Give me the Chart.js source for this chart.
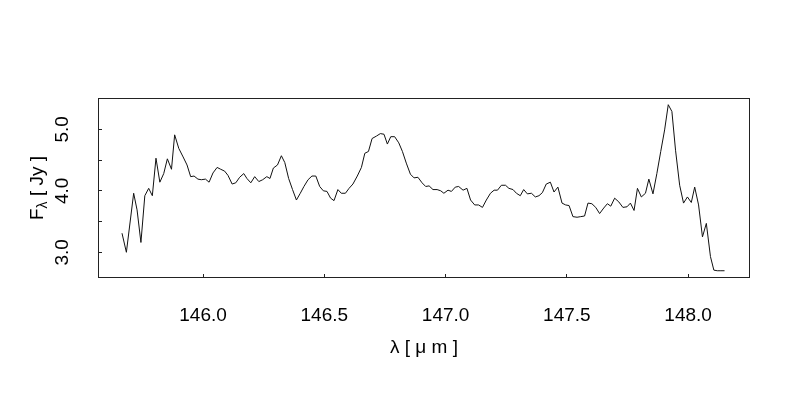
<!DOCTYPE html>
<html>
<head>
<meta charset="utf-8">
<title>Spectrum</title>
<style>
    html, body { margin: 0; padding: 0; background: #fff; }
    #wrap { width: 800px; height: 400px; }
</style>
<script src="https://cdn.jsdelivr.net/npm/chart.js@4.4.1/dist/chart.umd.min.js"></script>
</head>
<body>
<div id="wrap"><canvas id="chartSpectrum" width="800" height="400"></canvas></div>
<script>
// wavelength in micron
const wavelength = [
    145.666, 145.684, 145.714, 145.728, 145.744, 145.760, 145.776, 145.791, 145.806, 145.822,
    145.838, 145.853, 145.870, 145.883, 145.900, 145.918, 145.934, 145.949, 145.963, 145.979,
    145.993, 146.010, 146.025, 146.041, 146.058, 146.073, 146.089, 146.103, 146.120, 146.135,
    146.151, 146.168, 146.181, 146.197, 146.213, 146.230, 146.246, 146.263, 146.276, 146.290,
    146.307, 146.323, 146.337, 146.353, 146.369, 146.385, 146.401, 146.416, 146.433, 146.449,
    146.465, 146.481, 146.496, 146.511, 146.526, 146.540, 146.556, 146.570, 146.587, 146.602,
    146.618, 146.636, 146.653, 146.667, 146.682, 146.697, 146.715, 146.731, 146.746, 146.760,
    146.774, 146.790, 146.807, 146.822, 146.838, 146.855, 146.870, 146.886, 146.903, 146.918,
    146.932, 146.948, 146.965, 146.980, 146.993, 147.010, 147.024, 147.040, 147.054, 147.072,
    147.088, 147.103, 147.120, 147.136, 147.152, 147.168, 147.185, 147.200, 147.214, 147.230,
    147.247, 147.261, 147.278, 147.292, 147.308, 147.322, 147.337, 147.354, 147.370, 147.385,
    147.399, 147.415, 147.432, 147.447, 147.463, 147.480, 147.495, 147.509, 147.525, 147.542,
    147.557, 147.573, 147.587, 147.603, 147.619, 147.635, 147.652, 147.667, 147.681, 147.697,
    147.714, 147.731, 147.748, 147.762, 147.777, 147.791, 147.807, 147.824, 147.838, 147.855,
    147.871, 147.887, 147.903, 147.918, 147.933, 147.948, 147.965, 147.981, 147.997, 148.013,
    148.027, 148.043, 148.059, 148.075, 148.092, 148.106, 148.120, 148.135, 148.150
];

// flux density in Jy
const flux = [
    3.31, 3.00, 3.96, 3.69, 3.16, 3.92, 4.04, 3.92, 4.53, 4.14,
    4.28, 4.52, 4.35, 4.91, 4.69, 4.55, 4.42, 4.23, 4.24, 4.19,
    4.18, 4.19, 4.14, 4.29, 4.38, 4.35, 4.32, 4.25, 4.11, 4.13,
    4.22, 4.28, 4.20, 4.13, 4.23, 4.15, 4.18, 4.23, 4.20, 4.37,
    4.42, 4.57, 4.46, 4.20, 4.02, 3.85, 3.96, 4.07, 4.18, 4.24,
    4.24, 4.07, 4.00, 3.99, 3.88, 3.84, 4.02, 3.96, 3.96, 4.04,
    4.11, 4.24, 4.38, 4.61, 4.64, 4.85, 4.89, 4.93, 4.92, 4.76,
    4.88, 4.88, 4.78, 4.64, 4.45, 4.27, 4.21, 4.22, 4.13, 4.07,
    4.08, 4.02, 4.02, 4.00, 3.96, 4.01, 3.99, 4.06, 4.07, 4.01,
    4.04, 3.85, 3.77, 3.77, 3.73, 3.85, 3.96, 4.01, 4.01, 4.09,
    4.09, 4.04, 4.02, 3.96, 3.92, 4.02, 3.95, 3.96, 3.90, 3.92,
    3.97, 4.11, 4.14, 3.98, 4.06, 3.80, 3.77, 3.76, 3.58, 3.57,
    3.58, 3.59, 3.80, 3.79, 3.73, 3.63, 3.72, 3.79, 3.75, 3.88,
    3.82, 3.73, 3.74, 3.80, 3.68, 4.04, 3.90, 3.96, 4.19, 3.95,
    4.28, 4.64, 4.99, 5.40, 5.29, 4.66, 4.09, 3.80, 3.90, 3.81,
    4.06, 3.77, 3.25, 3.47, 2.93, 2.71, 2.70, 2.70, 2.70
];

const xTicks = [146.0, 146.5, 147.0, 147.5, 148.0];
const yTicks = [3.0, 3.5, 4.0, 4.5, 5.0];
const yLabelled = [3.0, 4.0, 5.0];

const FONT = "'Liberation Sans', Arial, Helvetica, sans-serif";
const FONT_SIZE = 19;

// box round the plot + y title with subscript lambda
const frameAndTitle = {
    id: "frameAndTitle",
    afterDraw(chart) {
        const { ctx, chartArea: a } = chart;
        ctx.save();
        ctx.strokeStyle = "#222";
        ctx.lineWidth = 1;
        ctx.strokeRect(Math.round(a.left) + 0.5, Math.round(a.top) + 0.5,
            Math.round(a.right - a.left) - 1, Math.round(a.bottom - a.top) - 1);

        ctx.translate(36, (a.top + a.bottom) / 2);
        ctx.rotate(-Math.PI / 2);
        ctx.fillStyle = "#000";
        ctx.textBaseline = "alphabetic";
        const big = `${FONT_SIZE}px ${FONT}`;
        const small = `${Math.round(FONT_SIZE * 0.72)}px ${FONT}`;
        ctx.font = big;
        const wF = ctx.measureText("F").width;
        const wRest = ctx.measureText(" [ Jy ]").width;
        ctx.font = small;
        const wSub = ctx.measureText("λ").width;
        const total = wF + wSub + wRest;
        let x = -total / 2;
        const base = FONT_SIZE * 0.36;
        ctx.font = big;
        ctx.fillText("F", x, base);
        x += wF;
        ctx.font = small;
        ctx.fillText("λ", x, base + 4);
        x += wSub;
        ctx.font = big;
        ctx.fillText(" [ Jy ]", x, base);
        ctx.restore();
    },
};

function initChart() {
    const canvas = document.getElementById("chartSpectrum");
    const points = wavelength.map((w, i) => ({ x: w, y: flux[i] }));

    new Chart(canvas, {
        type: "line",
        data: {
            datasets: [
                {
                    data: points,
                    borderColor: "#111",
                    borderWidth: 1,
                    pointRadius: 0,
                    tension: 0,
                    fill: false,
                },
            ],
        },
        options: {
            responsive: false,
            animation: false,
            devicePixelRatio: 1,
            layout: { padding: { top: 98, right: 50, left: 0, bottom: 0 } },
            plugins: { legend: { display: false }, tooltip: { enabled: false } },
            scales: {
                x: {
                    type: "linear",
                    min: 145.567,
                    max: 148.255,
                    afterBuildTicks: (s) => { s.ticks = xTicks.map((v) => ({ value: v })); },
                    afterFit: (s) => { s.height = 122; },
                    border: { display: false },
                    grid: { drawOnChartArea: false, tickLength: -4, tickColor: "#222", lineWidth: 1 },
                    ticks: {
                        padding: 30,
                        color: "#000",
                        maxRotation: 0,
                        autoSkip: false,
                        font: { family: FONT, size: FONT_SIZE },
                        callback: (v) => Number(v).toFixed(1),
                    },
                    title: {
                        display: true,
                        text: "λ [ μ m ]",
                        color: "#000",
                        font: { family: FONT, size: FONT_SIZE },
                        padding: { top: 0, bottom: 41 },
                    },
                },
                y: {
                    type: "linear",
                    min: 2.582,
                    max: 5.509,
                    afterBuildTicks: (s) => { s.ticks = yTicks.map((v) => ({ value: v })); },
                    afterFit: (s) => { s.width = 98; },
                    border: { display: false },
                    grid: { drawOnChartArea: false, tickLength: -4, tickColor: "#222", lineWidth: 1 },
                    ticks: {
                        padding: 26,
                        color: "#000",
                        minRotation: 90,
                        maxRotation: 90,
                        crossAlign: "center",
                        autoSkip: false,
                        font: { family: FONT, size: FONT_SIZE },
                        callback: (v) => (yLabelled.includes(v) ? Number(v).toFixed(1) : ""),
                    },
                },
            },
        },
        plugins: [frameAndTitle],
    });
}

document.addEventListener("DOMContentLoaded", initChart);
</script>
</body>
</html>
